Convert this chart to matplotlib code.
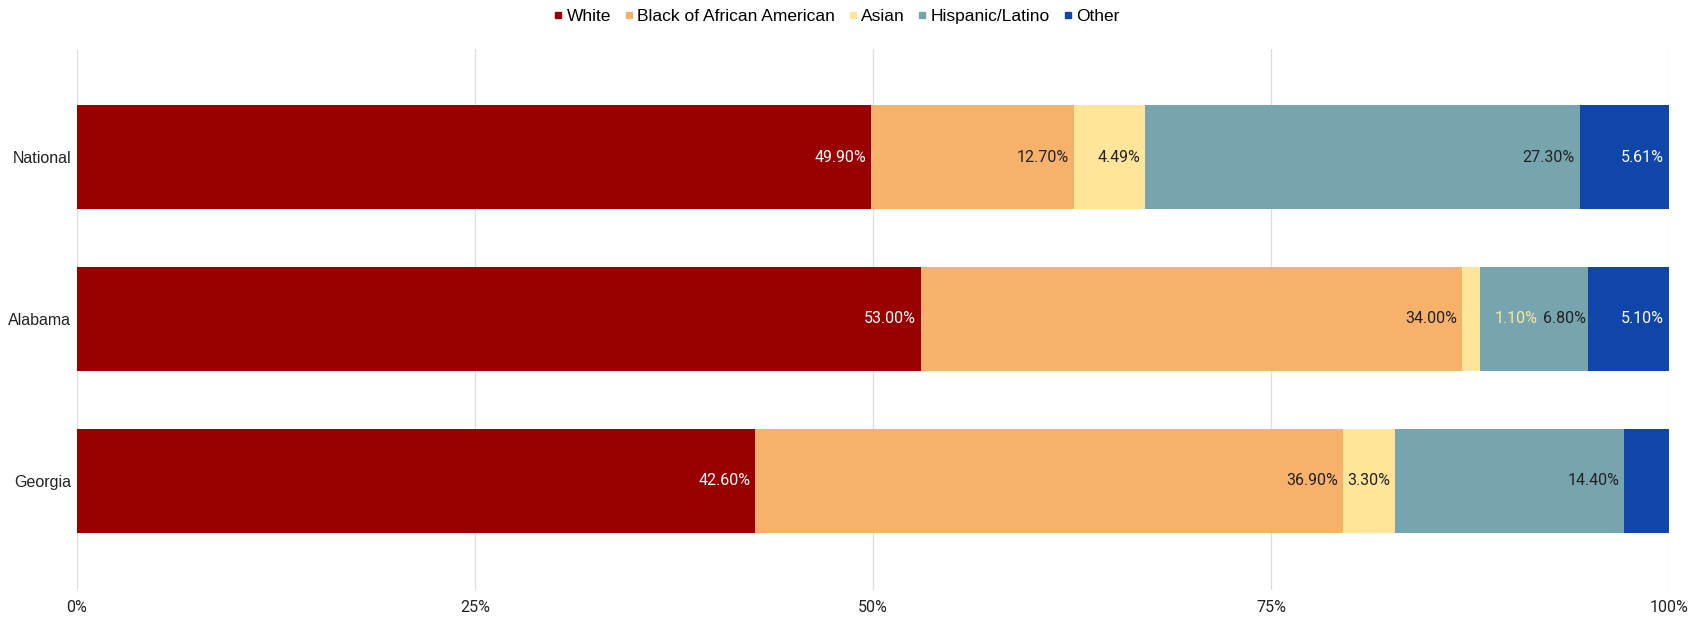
import numpy as np
import matplotlib.pyplot as plt
from matplotlib.lines import Line2D
from matplotlib.ticker import FuncFormatter

regions = ['National', 'Alabama', 'Georgia']
groups = ['White', 'Black of African American', 'Asian', 'Hispanic/Latino', 'Other']
white = [49.90, 53.00, 42.60]
black = [12.70, 34.00, 36.90]
asian = [4.49, 1.10, 3.30]
hispanic = [27.30, 6.80, 14.40]
other = [5.61, 5.10, 2.80]
show_label = [[True, True, True], [True, True, True], [True, True, True],
              [True, True, True], [True, True, False]]

colors = ['#990000', '#f6b26b', '#ffe599', '#76a5af', '#1045aa']
label_colors = ['white', '#222222', '#222222', '#222222', 'white']

fig = plt.figure(figsize=(17, 6.18), dpi=100)
ax = fig.add_axes([0.0453, 0.0453, 0.9365, 0.8754])

series = [white, black, asian, hispanic, other]
totals = np.sum(series, axis=0)
y = np.arange(len(regions))
left = np.zeros(len(regions))
outside = [False] * len(regions)
for i, vals in enumerate(series):
    w = np.array(vals) / totals * 100
    ax.barh(y, w, left=left, height=0.643, color=colors[i], zorder=2)
    for j in range(len(regions)):
        if not show_label[i][j]:
            continue
        txt = '%.2f%%' % vals[j]
        end = left[j] + w[j]
        if w[j] < 2:
            # too narrow, put it outside in the bar colour
            ax.annotate(txt, (end, y[j]), xytext=(11, 0), textcoords='offset points',
                        ha='left', va='center', color=colors[i], fontsize=11.5,
                        family='Roboto', zorder=3)
            outside[j] = True
        else:
            pad = -1.2 if outside[j] else -3.5
            ax.annotate(txt, (end, y[j]), xytext=(pad, 0), textcoords='offset points',
                        ha='right', va='center', color=label_colors[i], fontsize=11.5,
                        family='Roboto', zorder=3)
            outside[j] = False
    left += w

ax.set_xlim(0, 100)
ax.set_ylim(2.677, -0.668)
ax.set_xticks([0, 25, 50, 75, 100])
ax.xaxis.set_major_formatter(FuncFormatter(lambda v, p: '%d%%' % v))
ax.set_yticks(y)
ax.set_yticklabels(regions, family='Liberation Sans', fontsize=11.5, color='#222222')
for lab in ax.get_xticklabels():
    lab.set_family('Roboto')
    lab.set_fontsize(11.5)
    lab.set_color('#222222')
ax.tick_params(length=0)
ax.tick_params(axis='x', pad=7)
ax.tick_params(axis='y', pad=4)
ax.grid(axis='x', color='#dddddd', linewidth=0.9, zorder=0)
ax.axvline(0, color='#9e9e9e', linewidth=1.1, zorder=1)
for s in ax.spines.values():
    s.set_visible(False)

handles = [Line2D([], [], marker='s', linestyle='', color=c, markersize=5) for c in colors]
fig.legend(handles, groups, loc='center', bbox_to_anchor=(0.4915, 0.974), ncol=5,
           frameon=False, handletextpad=0.1, columnspacing=0.6, handlelength=0.8,
           prop={'family': 'Liberation Sans', 'size': 12.5})

fig.savefig('out.png', dpi=100)
